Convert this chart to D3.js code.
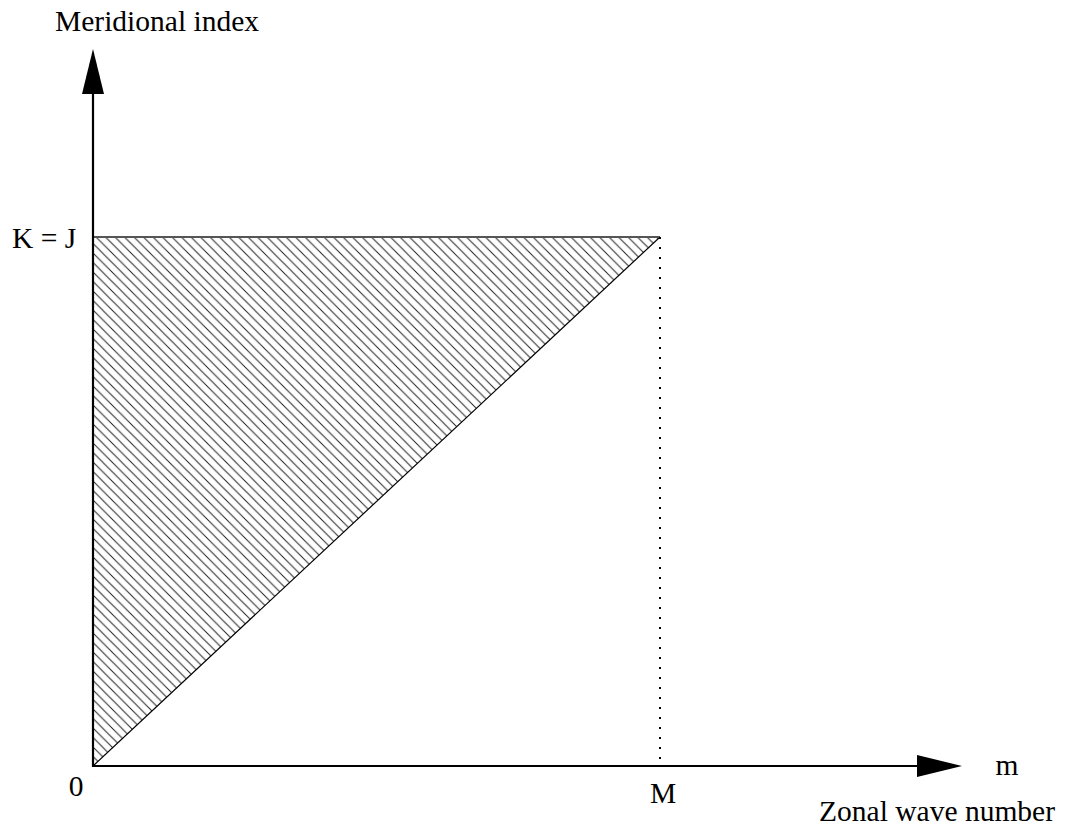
<!DOCTYPE html>
<html>
<head>
<meta charset="utf-8">
<script src="https://cdn.jsdelivr.net/npm/d3@7"></script>
<style>
  body { margin: 0; background: #fff; }
  text { font-family: "Liberation Serif", "Times New Roman", serif; fill: #000; }
</style>
</head>
<body>
<svg id="chart" width="1069" height="827"></svg>
<script>
// data: truncation region in (m, k) space, in units of M and K
const triangle = [[0, 0], [1, 1], [0, 1]];
const xTicks = [{ v: 0, label: '0' }, { v: 1, label: 'M' }];
const yTicks = [{ v: 1, label: 'K = J' }];
const xLabel = 'Zonal wave number';
const xSymbol = 'm';
const yLabel = 'Meridional index';

const origin = { x: 93, y: 766 };
const fs = 29.5;
const svg = d3.select('#chart');

const x = d3.scaleLinear().domain([0, 1]).range([origin.x, 660]);
const y = d3.scaleLinear().domain([0, 1]).range([origin.y, 237]);
const xMax = x.invert(962);
const yMax = y.invert(49);

// hatch pattern
const defs = svg.append('defs');
const sp = 9.5;
const pat = defs.append('pattern')
    .attr('id', 'hatch')
    .attr('patternUnits', 'userSpaceOnUse')
    .attr('x', origin.x)
    .attr('y', origin.y)
    .attr('width', sp)
    .attr('height', sp);
pat.append('path')
    .attr('d', `M${-1},${-1}L${sp + 1},${sp + 1}M${-1},${sp - 1}L1,${sp + 1}M${sp - 1},-1L${sp + 1},1`)
    .attr('stroke', '#222')
    .attr('stroke-width', 1);

// filled triangle
const line = d3.line().x(d => x(d[0])).y(d => y(d[1]));
svg.append('path')
    .attr('d', line(triangle) + 'Z')
    .attr('fill', 'url(#hatch)');

// diagonal edge
svg.append('path')
    .attr('d', line(triangle.slice(0, 2)))
    .attr('stroke', '#000')
    .attr('stroke-width', 1.2)
    .attr('fill', 'none');

// top edge
svg.append('path')
    .attr('d', line([[0, 1], [1, 1]]))
    .attr('stroke', '#555')
    .attr('stroke-width', 2)
    .attr('fill', 'none');

// dotted drop line at M
svg.append('path')
    .attr('d', line([[1, 1], [1, 0]]))
    .attr('stroke', '#000')
    .attr('stroke-width', 2)
    .attr('stroke-dasharray', '2,8')
    .attr('fill', 'none');

// axes with arrow heads
svg.append('line')
    .attr('x1', x(0) - 1).attr('y1', y(0))
    .attr('x2', x(xMax) - 40).attr('y2', y(0))
    .attr('stroke', '#000').attr('stroke-width', 2.2);
svg.append('path')
    .attr('d', `M${x(xMax)},${y(0)}L${x(xMax) - 45},${y(0) - 11}L${x(xMax) - 45},${y(0) + 11}Z`)
    .attr('fill', '#000');

svg.append('line')
    .attr('x1', x(0)).attr('y1', y(0) + 1)
    .attr('x2', x(0)).attr('y2', y(yMax) + 40)
    .attr('stroke', '#000').attr('stroke-width', 2.2);
svg.append('path')
    .attr('d', `M${x(0)},${y(yMax)}L${x(0) - 11},${y(yMax) + 45}L${x(0) + 11},${y(yMax) + 45}Z`)
    .attr('fill', '#000');

// tick labels
svg.selectAll('.xtick')
  .data(xTicks)
  .join('text')
    .attr('class', 'xtick')
    .attr('x', d => d.v === 0 ? x(d.v) - 17 : x(d.v) + 3)
    .attr('y', d => d.v === 0 ? 796 : 803)
    .attr('text-anchor', 'middle')
    .attr('font-size', fs)
    .text(d => d.label);

svg.selectAll('.ytick')
  .data(yTicks)
  .join('text')
    .attr('class', 'ytick')
    .attr('x', 12)
    .attr('y', d => y(d.v) + 11)
    .attr('font-size', fs)
    .text(d => d.label);

// axis labels
svg.append('text')
    .attr('x', 55)
    .attr('y', 31)
    .attr('font-size', fs)
    .text(yLabel);

svg.append('text')
    .attr('x', 1007)
    .attr('y', 775)
    .attr('text-anchor', 'middle')
    .attr('font-size', fs)
    .text(xSymbol);

svg.append('text')
    .attr('x', 1055)
    .attr('y', 821)
    .attr('text-anchor', 'end')
    .attr('font-size', fs)
    .text(xLabel);
</script>
</body>
</html>
